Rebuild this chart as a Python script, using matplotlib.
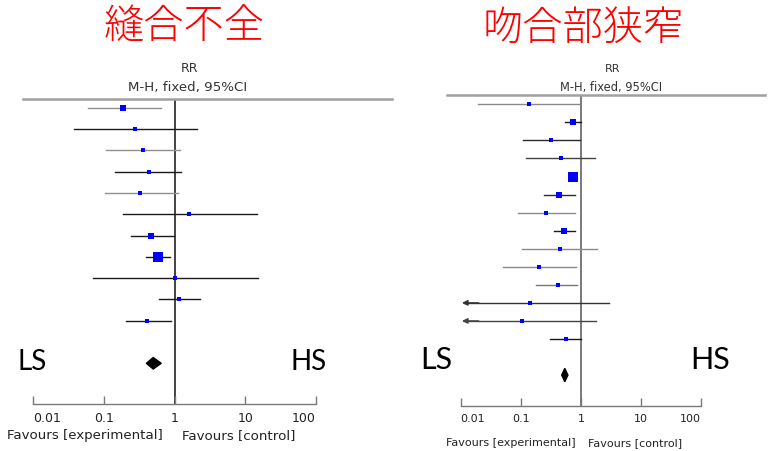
import matplotlib
matplotlib.use("Agg")
import matplotlib.pyplot as plt
from matplotlib.lines import Line2D
from matplotlib.patches import Polygon
import numpy as np

# ---------------- data ----------------
tick_vals = [0.01, 0.1, 1, 10, 100]
tick_labels = ["0.01", "0.1", "1", "10", "100"]

# Left panel: 縫合不全
left_title = "縫合不全"
left_rr = [0.19, 0.28, 0.355, 0.435, 0.33, 1.59, 0.47, 0.59, 1.0, 1.15, 0.41]
left_lo = [0.06, 0.038, 0.107, 0.144, 0.104, 0.188, 0.24, 0.39, 0.071, 0.60, 0.204]
left_hi = [0.635, 2.09, 1.19, 1.23, 1.11, 14.6, 0.98, 0.86, 15.1, 2.32, 0.88]
left_weight = [10.3, 5.8, 5.8, 5.8, 5.8, 1.8, 7.2, 28.6, 1.1, 4.6, 4.6]
left_pooled = [0.50, 0.40, 0.65]  # RR, lo, hi

# Right panel: 吻合部狭窄
right_title = "吻合部狭窄"
right_rr = [0.136, 0.73, 0.32, 0.46, 0.74, 0.43, 0.26, 0.53, 0.45, 0.20, 0.41, 0.145, 0.105, 0.56]
right_lo = [0.0195, 0.54, 0.11, 0.124, 0.66, 0.24, 0.089, 0.355, 0.105, 0.05, 0.176, 0.001, 0.001, 0.31]
right_hi = [0.93, 1.0, 0.96, 1.69, 0.83, 0.79, 0.79, 0.81, 1.88, 0.84, 0.87, 2.93, 1.76, 1.0]
right_weight = [2.6, 14.0, 7.1, 2.6, 23.2, 8.6, 2.6, 8.6, 2.6, 2.6, 4.6, 2.6, 2.6, 4.6]
right_pooled = [0.54, 0.48, 0.61]

# ---------------- styles ----------------
left_line_cols = ["#909090", "#1a1a1a", "#909090", "#1a1a1a", "#909090", "#1a1a1a",
                  "#1a1a1a", "#1a1a1a", "#1a1a1a", "#1a1a1a", "#1a1a1a"]
right_line_cols = ["#8a8a8a", "#1a1a1a", "#2a2a2a", "#444444", "#1a1a1a", "#2a2a2a",
                   "#8a8a8a", "#1a1a1a", "#8a8a8a", "#8a8a8a", "#777777", "#333333",
                   "#444444", "#1a1a1a"]

W, H = 780, 452
fig = plt.figure(figsize=(W / 100, H / 100), dpi=100)
fig.patch.set_facecolor("white")

cjk = ["Noto Sans CJK JP", "DejaVu Sans"]


def fx(px):
    return px / W


def fy(py):
    return 1 - py / H


def panel(x0, x1, ytop, ybot, row0, spacing, rr, lo, hi, wts, cols, pooled,
          pooled_row, diamond_h, vcol, tick_fs, fav_off, label_fs):
    n = len(rr)
    ax = fig.add_axes([fx(x0), fy(ybot), fx(x1) - fx(x0), fy(ytop) - fy(ybot)])
    ax.set_xscale("log")
    ax.set_xlim(0.01, 100)
    y_top_row = 1 - (row0 - ytop) / spacing
    y_bot_row = 1 + (ybot - row0) / spacing
    ax.set_ylim(y_bot_row, y_top_row)
    ax.patch.set_alpha(0)
    for s in ["left", "right", "top"]:
        ax.spines[s].set_visible(False)
    ax.spines["bottom"].set_color("#7a7a7a")
    ax.spines["bottom"].set_linewidth(1.0)
    ax.set_yticks([])
    ax.set_xticks(tick_vals)
    ax.set_xticklabels(tick_labels)
    ax.xaxis.set_minor_locator(matplotlib.ticker.NullLocator())
    ax.tick_params(axis="x", direction="in", length=6, width=1, color="#7a7a7a",
                   labelsize=tick_fs, pad=5, labelcolor="#222222")
    labs = ax.get_xticklabels()
    labs[0].set_horizontalalignment("left")
    labs[-1].set_horizontalalignment("right")

    ax.axvline(1, color=vcol, lw=1.1, zorder=1)
    rows = np.arange(1, n + 1)
    for i in range(n):
        if lo[i] < 0.01:
            ax.plot([0.0115, hi[i]], [rows[i], rows[i]], color=cols[i], lw=1.0, zorder=2)
            ax.annotate("", xy=(0.0105, rows[i]), xytext=(0.02, rows[i]),
                        arrowprops=dict(arrowstyle="-|>", color=cols[i], lw=1.0,
                                        mutation_scale=8, shrinkA=0, shrinkB=0))
        else:
            ax.plot([lo[i], hi[i]], [rows[i], rows[i]], color=cols[i], lw=1.0, zorder=2)
        ms = max(1.87 * np.sqrt(wts[i]) * 0.72, 2.2)
        ax.plot(rr[i], rows[i], marker="s", color="#0000ff", markersize=ms,
                markeredgewidth=0, zorder=3)
    c, l, h = pooled
    dia = Polygon([[l, pooled_row], [c, pooled_row - diamond_h], [h, pooled_row],
                   [c, pooled_row + diamond_h]], closed=True, color="black", zorder=3)
    ax.add_patch(dia)

    ax.annotate("Favours [experimental]", xy=(1, 0), xycoords=("data", "axes fraction"),
                xytext=(fav_off[0], fav_off[2]), textcoords="offset pixels",
                ha="right", va="center", fontsize=label_fs, color="#222222")
    ax.annotate("Favours [control]", xy=(1, 0), xycoords=("data", "axes fraction"),
                xytext=(fav_off[1], fav_off[2]), textcoords="offset pixels",
                ha="left", va="center", fontsize=label_fs, color="#222222")
    return ax


axL = panel(33, 316, 100, 405, 108.7, 21.3, left_rr, left_lo, left_hi, left_weight,
            left_line_cols, left_pooled, len(left_rr) + 2, 0.27, "#111111", 9,
            (-12, 8, -31), 9.6)
axR = panel(460.7, 701, 96, 407, 105.3, 18.05, right_rr, right_lo, right_hi, right_weight,
            right_line_cols, right_pooled, len(right_rr) + 2, 0.37, "#555555", 8,
            (-5, 7, -36), 8)

# top header lines
fig.add_artist(Line2D([fx(23), fx(392)], [fy(100), fy(100)], color="#a0a0a0", lw=1.8))
fig.add_artist(Line2D([fx(447), fx(765)], [fy(96), fy(96)], color="#a0a0a0", lw=1.8))

# headers
fig.text(fx(189), fy(68), "RR", ha="center", va="center", fontsize=9, color="#333333")
fig.text(fx(188), fy(88), "M-H, fixed, 95%CI", ha="center", va="center", fontsize=9.6,
         color="#333333")
fig.text(fx(613), fy(69), "RR", ha="center", va="center", fontsize=8, color="#333333")
fig.text(fx(611), fy(88), "M-H, fixed, 95%CI", ha="center", va="center", fontsize=8.3,
         color="#333333")

# titles
fig.text(fx(184), fy(28), left_title, ha="center", va="center", fontsize=29,
         color="#ff0000", family=cjk, fontweight="light")
fig.text(fx(583), fy(29), right_title, ha="center", va="center", fontsize=29,
         color="#ff0000", family=cjk, fontweight="light")

# LS / HS
fig.text(fx(18), fy(362), "LS", ha="left", va="center", fontsize=20, family="Lato",
         color="black")
fig.text(fx(327), fy(362), "HS", ha="right", va="center", fontsize=20, family="Lato",
         color="black")
fig.text(fx(420), fy(360), "LS", ha="left", va="center", fontsize=22, family="Lato",
         color="black")
fig.text(fx(730), fy(360), "HS", ha="right", va="center", fontsize=22, family="Lato",
         color="black")

fig.savefig("out.png", dpi=100, facecolor="white")
